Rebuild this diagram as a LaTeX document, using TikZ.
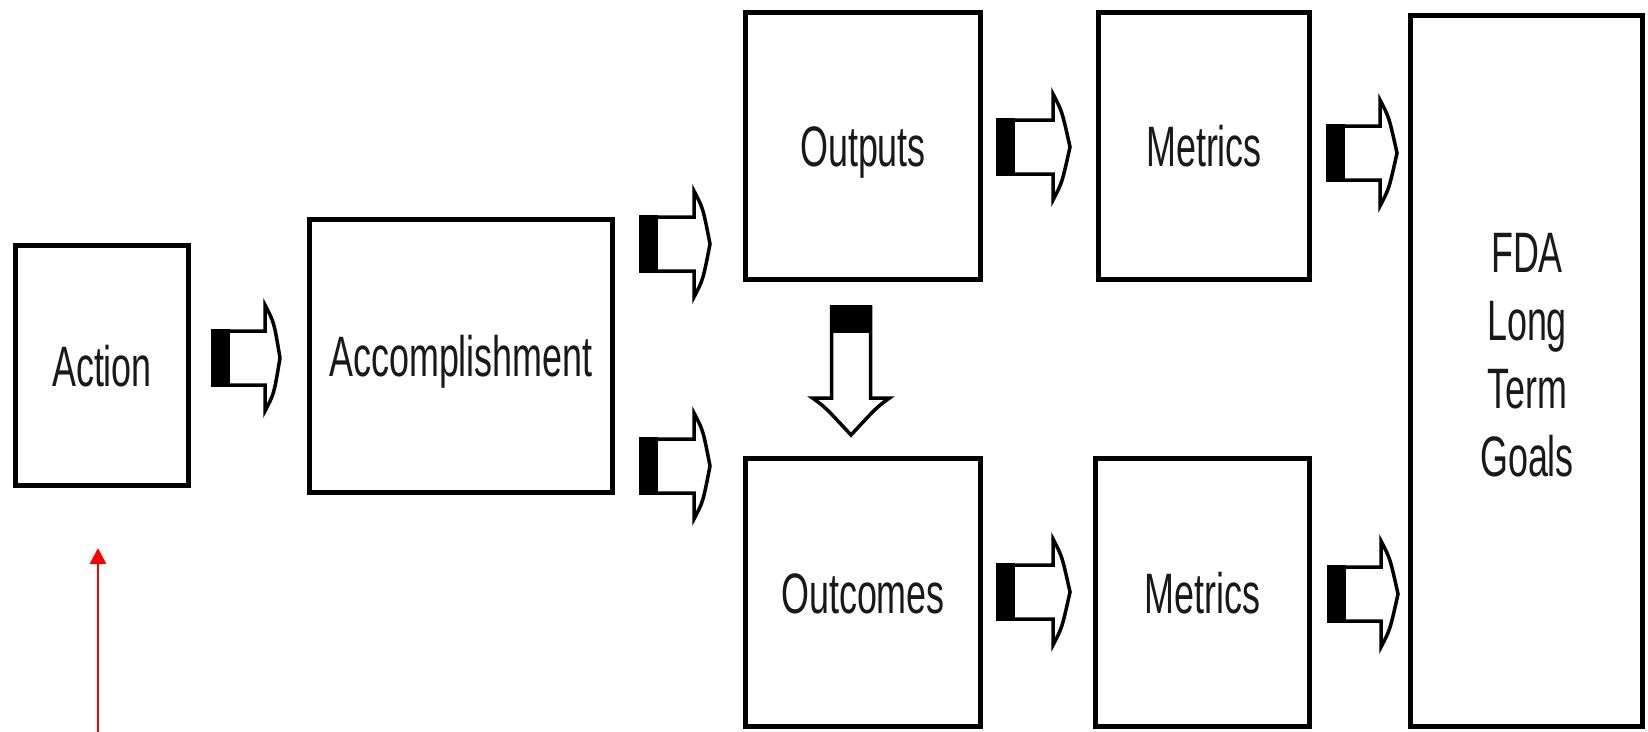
\documentclass[tikz,border=0pt]{standalone}
\usepackage{fontspec}
\newfontfamily\boxfont{Liberation Sans}[FakeStretch=0.63]
\usetikzlibrary{arrows.meta}
\tikzset{
  box/.style={draw, line width=5pt, fill=white, inner sep=0pt, align=center,
    text height=41pt, text depth=0pt, text=black!90,
    font=\boxfont\fontsize{57}{68}\selectfont},
  blockarrow/.style={draw, line width=3.5pt, fill=white, line join=miter},
  redarrow/.style={draw=red, line width=2.5pt, -{Triangle[length=16pt,width=16pt]}},
}
\newcommand{\harrow}[4]{% tail x, head base x, tip x, centre y
  \draw[blockarrow] (#1,#4-27) -- (#2,#4-27) -- (#2,#4-53)
    .. controls (#2+9,#4-36) .. (#3,#4)
    .. controls (#2+9,#4+36) .. (#2,#4+53) -- (#2,#4+27) -- (#1,#4+27) -- cycle;
  \fill (#1-1.75,#4-28.75) rectangle (#1+17,#4+28.75);
}
\newcommand{\varrow}[4]{% tail y, head base y, tip y, centre x
  \draw[blockarrow] (#4-19.5,#1) -- (#4-19.5,#2) -- (#4-38.5,#2)
    .. controls (#4-26,#2+9) .. (#4,#3)
    .. controls (#4+26,#2+9) .. (#4+38.5,#2) -- (#4+19.5,#2) -- (#4+19.5,#1) -- cycle;
  \fill (#4-21.25,#1-1.75) rectangle (#4+21.25,#1+26);
}
\begin{document}
\begin{tikzpicture}[x=1pt,y=-1pt]
\useasboundingbox[fill=white] (0,0) rectangle (1648,731);
% boxes
\node[box, minimum width=173pt, minimum height=240pt] (action) at (102,365.5) {Action};
\node[box, minimum width=303pt, minimum height=273pt] (accomp) at (461,356) {Accomplishment};
\node[box, minimum width=235pt, minimum height=267pt] (outputs) at (863,146) {Outputs};
\node[box, minimum width=235pt, minimum height=268pt] (outcomes) at (863,592.5) {Outcomes};
\node[box, minimum width=211pt, minimum height=267pt] (metricsA) at (1204,146) {Metrics};
\node[box, minimum width=214pt, minimum height=268pt] (metricsB) at (1202.5,592.5) {Metrics};
\node[box, minimum width=232pt, minimum height=711pt, text height=0pt] (fda) at (1526.5,371) {};
\node[font=\boxfont\fontsize{57}{68}\selectfont, text=black!90, align=center, inner sep=0pt] (fdatext) at (1527,355) {FDA\\Long\\Term\\Goals};
% block arrows
\harrow{213}{265}{280}{358}
\harrow{641}{694}{710}{244}
\harrow{641}{694}{710}{466}
\harrow{998}{1053}{1070}{147}
\harrow{1328}{1380}{1397}{153}
\harrow{998}{1053}{1070}{592}
\harrow{1329}{1381}{1398}{594}
\varrow{307}{398}{435}{851}
% red arrow
\coordinate (redstart) at (98,735);
\coordinate (redtip) at (98,548);
\draw[redarrow] (redstart) -- (redtip);
\end{tikzpicture}
\end{document}
